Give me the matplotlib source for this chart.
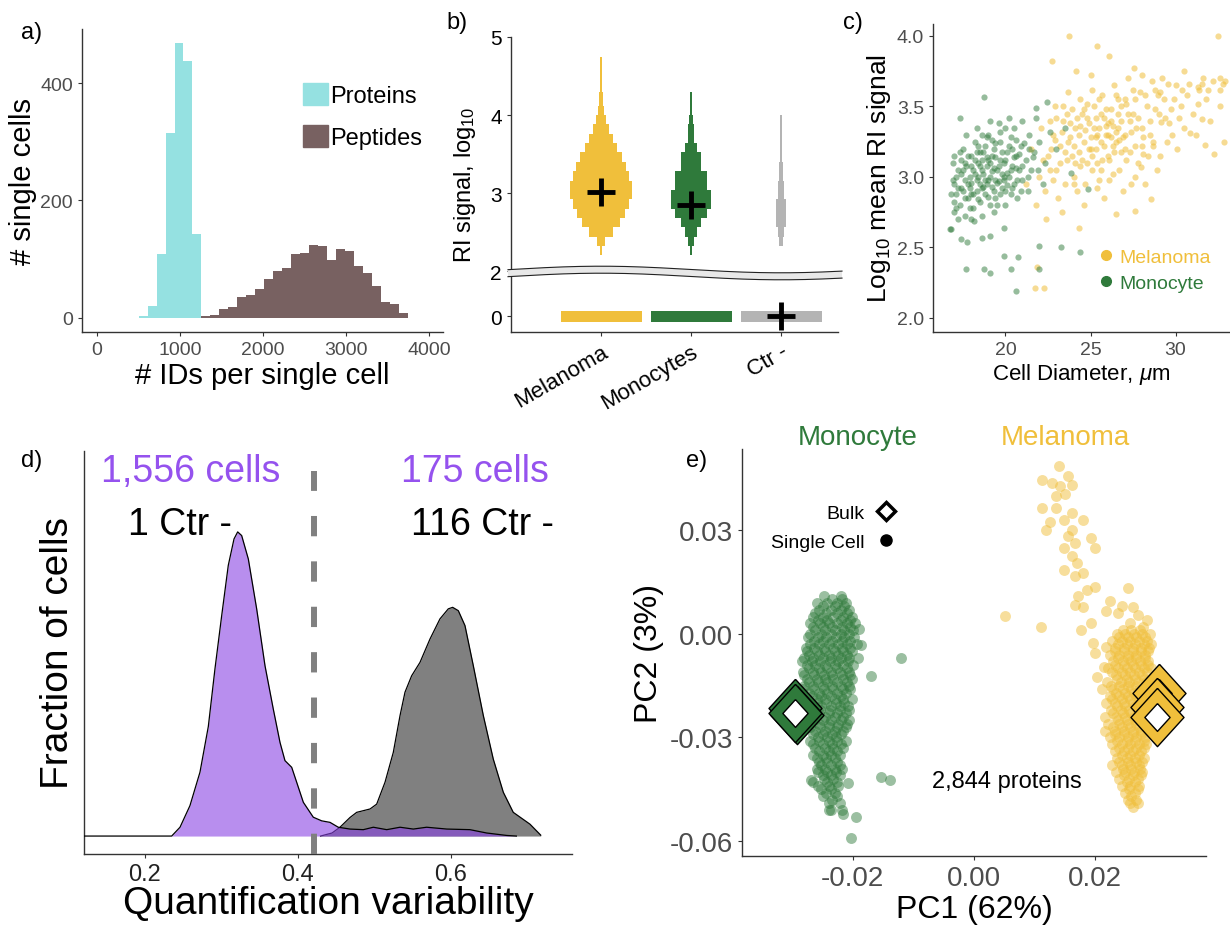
import numpy as np
import matplotlib.pyplot as plt
from matplotlib.patches import Patch, Polygon
from matplotlib.lines import Line2D

plt.rcParams['font.family'] = ['Liberation Sans', 'DejaVu Sans']
plt.rcParams['mathtext.fontset'] = 'custom'
plt.rcParams['mathtext.rm'] = 'Liberation Sans'
plt.rcParams['mathtext.it'] = 'Liberation Sans:italic'
plt.rcParams['axes.unicode_minus'] = False

# ---------------- data ----------------
# a) identifications per single cell (histograms)
prot_edges = [508, 615, 722, 829, 936, 1043, 1150, 1257]
prot_counts = [3, 21, 109, 315, 469, 437, 143]
pep_edges = [1257, 1365, 1474, 1582, 1691, 1799, 1908, 2016, 2125, 2233, 2342, 2450,
             2559, 2667, 2776, 2884, 2993, 3101, 3210, 3318, 3427, 3535, 3644, 3752]
pep_counts = [4, 5, 15, 18, 36, 39, 50, 66, 80, 85, 108, 110, 124, 123, 99, 117, 114,
              89, 76, 54, 27, 23, 9]

# b) binned RI signal (log10), relative bin widths per group
groups_b = ['Melanoma', 'Monocytes', 'Ctr -']
ri_edges = [2.20, 2.32, 2.44, 2.56, 2.68, 2.80, 2.92, 3.04, 3.16, 3.28, 3.40, 3.52,
            3.64, 3.76, 3.88, 4.00, 4.12, 4.30, 4.50, 4.75, 5.00]
ri_mel = [0.03, 0.13, 0.40, 0.60, 0.77, 0.90, 1.0, 1.0, 0.90, 0.80, 0.67, 0.53, 0.40,
          0.27, 0.17, 0.10, 0.06, 0.04, 0.025, 0.012]
ri_mono = [0.02, 0.09, 0.20, 0.33, 0.50, 0.65, 0.65, 0.50, 0.50, 0.31, 0.31, 0.19, 0.11,
           0.11, 0.06, 0.04, 0.025, 0.015, 0.008, 0.0]
ri_ctr = [0.01, 0.06, 0.10, 0.16, 0.16, 0.16, 0.09, 0.09, 0.06, 0.06, 0.03, 0.03, 0.025,
          0.02, 0.02, 0.015, 0.01, 0.006, 0.0, 0.0]
ri_median = [3.01, 2.85, 0.0]
zero_level = [0.0, 0.0, 0.0]

# c) cell diameter vs log10 mean RI signal
mono_c = [(17.0, 2.95), (17.2, 3.05), (17.1, 2.88), (17.4, 3.12), (17.3, 2.80), (17.6, 2.98),
          (17.5, 3.20), (17.8, 2.85), (17.7, 3.08), (17.9, 2.92), (18.0, 3.15), (18.1, 2.78),
          (18.2, 3.02), (18.3, 2.90), (18.2, 3.25), (18.4, 3.10), (18.5, 2.95), (18.6, 3.05),
          (18.5, 2.82), (18.7, 3.18), (18.8, 2.98), (18.9, 3.08), (18.8, 2.88), (19.0, 3.30),
          (19.1, 3.00), (19.2, 2.93), (19.0, 3.12), (19.3, 3.20), (19.4, 2.85), (19.5, 3.05),
          (19.4, 3.14), (19.6, 2.97), (19.7, 3.25), (19.8, 3.02), (19.9, 3.10), (20.0, 2.90),
          (20.1, 3.18), (20.2, 3.00), (20.3, 3.28), (20.4, 3.08), (20.5, 2.95), (20.6, 3.15),
          (20.8, 3.05), (20.9, 3.22), (21.0, 2.98), (21.2, 3.12), (21.4, 3.30), (21.5, 3.05),
          (21.7, 3.18), (22.0, 3.25), (22.3, 3.10), (22.6, 3.32), (23.0, 3.20), (23.5, 3.35),
          (16.9, 3.10), (17.0, 2.75), (16.8, 2.88), (17.2, 2.70), (17.5, 2.90), (17.9, 3.00),
          (18.0, 2.70), (18.3, 3.35), (18.6, 2.72), (19.1, 3.40), (19.3, 2.75), (19.6, 3.38),
          (20.0, 2.80), (20.2, 3.42), (20.5, 3.35), (20.7, 2.85), (21.0, 3.40), (21.3, 2.90),
          (21.8, 3.42), (22.2, 2.95), (16.8, 2.63), (17.0, 2.82), (17.7, 3.30), (18.4, 3.22),
          (18.9, 3.28), (19.2, 3.15), (19.8, 2.92), (20.3, 2.88), (17.4, 2.92), (18.1, 3.05),
          (18.7, 2.93), (19.5, 2.80), (17.1, 3.00), (17.6, 3.10), (18.0, 2.96), (18.4, 3.00),
          (18.6, 3.12), (19.0, 2.98), (19.3, 3.06), (19.7, 3.12), (20.1, 3.03), (20.6, 3.06),
          (17.2, 2.92), (17.4, 3.02), (17.6, 2.85), (17.8, 3.15), (17.9, 2.78), (18.0, 3.08),
          (18.1, 2.88), (18.2, 3.12), (18.3, 2.98), (18.4, 2.84), (18.5, 3.18), (18.6, 2.92),
          (18.7, 3.02), (18.8, 3.22), (18.9, 2.95), (19.0, 2.86), (19.1, 3.10), (19.2, 3.04),
          (19.3, 2.90), (19.4, 3.24), (19.5, 2.96), (19.6, 3.08), (19.7, 2.88), (19.8, 3.18),
          (19.9, 2.98), (20.0, 3.12), (20.1, 2.94), (20.2, 3.22), (20.3, 3.05), (20.4, 2.92),
          (20.5, 3.14), (20.6, 3.26), (20.7, 2.98), (20.8, 3.16), (21.0, 3.08), (21.1, 3.24),
          (21.3, 3.00), (21.6, 3.14), (21.9, 3.05), (17.0, 3.15), (16.9, 2.98), (17.3, 3.18),
          (17.5, 3.05), (17.1, 2.78), (17.6, 2.72), (18.0, 2.88), (18.3, 3.18), (18.6, 3.30),
          (18.9, 3.14), (19.1, 2.80), (19.4, 2.98), (19.7, 3.32), (20.0, 3.35), (20.4, 3.20),
          (20.9, 2.90), (21.4, 3.20), (17.8, 2.95), (18.5, 3.08), (19.2, 3.26), (19.9, 3.00),
          (18.76, 3.565), (17.34, 3.42), (17.69, 2.35), (18.72, 2.35), (19.07, 2.32),
          (19.9, 2.44), (20.73, 2.43), (20.3, 2.35), (20.59, 2.19), (21.97, 2.51),
          (23.25, 2.50), (24.4, 2.47), (21.97, 2.35), (17.4, 2.56), (17.73, 2.54),
          (18.62, 2.57), (19.11, 2.58), (16.75, 2.63), (18.13, 2.69), (19.9, 2.64),
          (24.83, 2.915), (23.85, 3.03), (22.47, 3.53), (21.78, 3.49)]
mel_c = [(22.5, 3.15), (22.8, 3.30), (23.0, 3.05), (23.2, 3.22), (23.4, 3.40), (23.6, 3.12),
         (23.8, 3.28), (24.0, 3.00), (24.1, 3.35), (24.3, 3.18), (24.5, 3.45), (24.6, 3.25),
         (24.8, 3.10), (24.9, 3.38), (25.0, 3.28), (25.2, 3.50), (25.3, 3.20), (25.5, 3.35),
         (25.6, 3.05), (25.8, 3.42), (25.9, 3.30), (26.0, 3.15), (26.2, 3.48), (26.3, 3.36),
         (26.5, 3.25), (26.6, 3.55), (26.8, 3.40), (27.0, 3.30), (27.1, 3.52), (27.3, 3.18),
         (27.5, 3.45), (27.7, 3.35), (27.9, 3.60), (28.1, 3.28), (28.3, 3.50), (28.5, 3.40),
         (28.8, 3.62), (29.0, 3.45), (29.3, 3.55), (29.6, 3.38), (30.0, 3.65), (30.3, 3.50),
         (30.7, 3.58), (31.0, 3.45), (31.4, 3.62), (31.8, 3.55), (32.2, 3.68), (32.6, 3.50),
         (22.0, 3.00), (22.3, 2.90), (22.6, 3.40), (23.1, 2.85), (23.5, 2.95), (23.9, 3.48),
         (24.2, 2.90), (24.4, 3.55), (24.7, 2.95), (25.1, 3.62), (25.4, 2.92), (25.7, 3.58),
         (26.1, 2.98), (26.4, 3.65), (26.7, 3.05), (27.2, 3.70), (27.4, 2.95), (27.8, 3.10),
         (28.0, 3.72), (28.4, 3.15), (28.7, 3.25), (29.2, 3.70), (29.8, 3.30), (30.5, 3.75),
         (31.2, 3.30), (32.0, 3.40), (32.8, 3.66), (21.2, 2.95), (21.5, 3.20), (21.8, 2.80),
         (22.1, 3.35), (22.4, 2.70), (22.9, 3.50), (23.3, 2.75), (23.7, 3.60), (24.6, 2.80),
         (25.0, 3.72), (25.8, 2.85), (26.9, 2.90), (28.2, 2.95), (28.9, 3.05), (22.7, 3.20),
         (23.3, 3.32), (23.7, 3.25), (24.2, 3.42), (24.7, 3.33), (25.1, 3.15), (25.3, 3.42),
         (25.6, 3.25), (26.0, 3.38), (26.3, 3.22), (26.6, 3.45), (26.9, 3.28), (27.3, 3.40),
         (27.6, 3.22), (24.4, 3.08), (24.9, 3.20), (25.4, 3.30), (25.9, 3.48), (26.5, 3.32),
         (27.0, 3.55), (23.0, 3.42), (23.9, 3.15), (24.8, 3.52), (25.7, 3.12), (26.2, 3.28),
         (26.8, 3.18), (23.5, 3.18), (23.8, 3.38), (24.0, 3.22), (24.3, 3.30), (24.5, 3.12),
         (24.8, 3.42), (25.0, 3.20), (25.2, 3.35), (25.4, 3.10), (25.6, 3.45), (25.8, 3.22),
         (26.0, 3.30), (26.2, 3.40), (26.4, 3.18), (26.6, 3.35), (26.8, 3.50), (27.0, 3.20),
         (27.2, 3.45), (27.4, 3.32), (27.6, 3.55), (27.8, 3.42), (28.0, 3.35), (28.2, 3.58),
         (28.5, 3.30), (28.8, 3.48), (29.1, 3.60), (29.4, 3.42), (29.9, 3.55), (30.2, 3.42),
         (30.8, 3.66), (31.3, 3.52), (31.9, 3.62), (22.6, 3.05), (22.9, 3.26), (23.2, 3.10),
         (23.6, 3.45), (24.1, 3.10), (24.6, 3.48), (25.1, 3.05), (25.5, 3.55), (26.1, 3.12),
         (26.5, 3.58), (27.1, 3.12), (27.5, 3.62), (28.0, 3.22), (28.6, 3.68), (24.4, 3.36),
         (25.3, 3.28), (25.9, 3.36), (26.7, 3.26), (23.4, 3.50), (24.0, 2.95), (25.5, 2.98),
         (26.3, 3.02), (27.6, 3.00), (22.2, 3.12), (22.8, 2.98), (29.5, 3.25), (30.5, 3.35),
         (31.6, 3.70), (23.75, 4.0), (32.5, 4.0), (25.37, 3.93), (22.76, 3.82), (26.1, 3.86),
         (24.14, 3.75), (27.56, 3.77), (32.62, 3.70), (32.92, 3.68), (31.54, 3.66),
         (21.72, 2.21), (22.27, 2.21), (21.87, 2.36), (24.34, 2.64), (26.5, 2.74),
         (27.63, 2.76), (28.58, 2.84), (32.82, 3.25), (32.23, 3.16), (31.73, 3.23),
         (30.06, 3.20), (30.85, 3.31), (31.54, 3.41), (32.62, 3.62), (31.34, 3.64),
         (30.36, 3.62), (29.57, 3.66), (28.98, 3.58), (29.76, 3.48), (29.17, 3.39),
         (28.68, 3.22), (28.09, 3.16), (29.07, 3.15), (27.99, 3.07)]

# d) quantification variability densities
purple_q = [0.1208, 0.2354, 0.2463, 0.2593, 0.2724, 0.2833, 0.2920, 0.3008, 0.3094, 0.3169,
            0.3217, 0.3269, 0.3356, 0.3465, 0.3574, 0.3682, 0.3770, 0.3835, 0.3923, 0.3988,
            0.4075, 0.4205, 0.4315, 0.4424, 0.4532, 0.4685, 0.4859, 0.4990, 0.5165, 0.5339,
            0.5512, 0.5687, 0.5950, 0.6253, 0.6472, 0.6733, 0.6860]
purple_d = [0.0, 0.0, 0.29, 1.0, 2.1, 3.6, 5.5, 7.25, 8.9, 9.77, 10.0, 9.88, 9.11, 7.47,
            5.6, 4.18, 3.08, 2.48, 2.26, 1.77, 1.11, 0.62, 0.50, 0.45, 0.29, 0.23, 0.21,
            0.29, 0.21, 0.29, 0.23, 0.29, 0.23, 0.21, 0.10, 0.02, 0.0]
gray_q = [0.4300, 0.4450, 0.4554, 0.4685, 0.4773, 0.4947, 0.5034, 0.5143, 0.5251, 0.5339,
          0.5404, 0.5491, 0.5600, 0.5731, 0.5861, 0.5970, 0.6027, 0.6101, 0.6188, 0.6297,
          0.6428, 0.6558, 0.6689, 0.6819, 0.7038, 0.7178]
gray_d = [0.0, 0.10, 0.29, 0.61, 0.78, 0.89, 1.05, 1.77, 2.75, 3.96, 4.73, 5.27, 5.71,
          6.48, 7.14, 7.47, 7.52, 7.41, 6.92, 5.60, 3.96, 2.53, 1.44, 0.78, 0.39, 0.03]
qv_cutoff = 0.421

# e) PCA (values in units of 1e-3)
mono_pc = [(-22.0, 11), (-24.8, 11), (-23.4, 10), (-21.8, 10),
           (-26.0, 9), (-24.2, 9), (-22.6, 9), (-21.2, 9), (-25.0, 8), (-23.0, 8), (-21.4, 8),
           (-25.6, 7), (-23.6, 7), (-22.0, 7), (-20.6, 7),
           (-26.2, 6), (-24.4, 6), (-22.6, 6), (-21.0, 6),
           (-26.6, 5), (-25.0, 5), (-23.2, 5), (-21.6, 5), (-20.2, 5),
           (-25.8, 4), (-24.2, 4), (-22.0, 4), (-20.4, 4),
           (-27.0, 3), (-25.4, 3), (-24.0, 3), (-22.6, 3), (-21.0, 3), (-19.6, 3),
           (-26.6, 2), (-25.0, 2), (-23.4, 2), (-21.8, 2), (-20.4, 2),
           (-26.2, 1), (-24.6, 1), (-23.0, 1), (-21.4, 1), (-19.9, 1),
           (-27.0, 0), (-25.2, 0), (-23.6, 0), (-22.0, 0), (-20.6, 0),
           (-27.4, -1), (-25.8, -1), (-24.4, -1), (-22.8, -1), (-21.4, -1), (-19.8, -1),
           (-26.4, -2), (-25.0, -2), (-23.4, -2), (-21.8, -2), (-20.4, -2),
           (-27.0, -3), (-25.6, -3), (-24.0, -3), (-22.4, -3), (-21.0, -3), (-19.3, -3),
           (-27.8, -4), (-26.4, -4), (-24.8, -4), (-23.2, -4), (-21.8, -4), (-20.4, -4),
           (-27.6, -5), (-26.0, -5), (-24.6, -5), (-23.0, -5), (-21.6, -5), (-20.2, -5),
           (-27.2, -6), (-25.6, -6), (-24.0, -6), (-22.4, -6), (-21.0, -6),
           (-28.0, -7), (-26.6, -7), (-25.0, -7), (-23.6, -7), (-22.0, -7), (-20.6, -7), (-19.2, -7),
           (-28.4, -8), (-26.8, -8), (-25.4, -8), (-23.8, -8), (-22.4, -8), (-20.8, -8),
           (-27.6, -9), (-26.2, -9), (-24.6, -9), (-23.0, -9), (-21.6, -9), (-20.0, -9),
           (-27.2, -10), (-25.6, -10), (-24.2, -10), (-22.6, -10), (-21.0, -10),
           (-28.2, -11), (-26.6, -11), (-25.2, -11), (-23.6, -11), (-22.2, -11), (-20.6, -11),
           (-28.0, -12), (-26.4, -12), (-24.8, -12), (-23.4, -12), (-21.8, -12), (-20.4, -12),
           (-27.6, -13), (-26.0, -13), (-24.6, -13), (-23.2, -13), (-21.6, -13), (-20.2, -13),
           (-27.2, -14), (-25.8, -14), (-24.2, -14), (-22.6, -14), (-21.0, -14),
           (-28.0, -15), (-26.6, -15), (-25.0, -15), (-23.4, -15), (-22.0, -15), (-20.6, -15),
           (-28.2, -16), (-26.4, -16), (-24.8, -16), (-23.2, -16), (-21.6, -16), (-20.4, -16),
           (-27.2, -17), (-25.6, -17), (-24.2, -17), (-22.6, -17), (-21.2, -17),
           (-26.8, -18), (-25.2, -18), (-23.6, -18), (-22.0, -18),
           (-27.6, -19), (-26.0, -19), (-24.6, -19), (-23.0, -19), (-21.6, -19), (-20.2, -19),
           (-27.6, -20), (-26.0, -20), (-24.4, -20), (-22.8, -20), (-21.4, -20),
           (-26.6, -21), (-25.2, -21), (-23.6, -21), (-22.2, -21), (-20.8, -21),
           (-27.0, -22), (-25.4, -22), (-23.8, -22), (-22.2, -22), (-20.6, -22),
           (-27.0, -23), (-25.6, -23), (-24.0, -23), (-22.6, -23), (-21.2, -23),
           (-26.2, -24), (-24.6, -24), (-23.0, -24), (-21.6, -24),
           (-26.4, -25), (-25.0, -25), (-23.6, -25), (-22.0, -25), (-20.6, -25),
           (-27.0, -26), (-25.6, -26), (-24.0, -26), (-22.4, -26), (-21.0, -26),
           (-27.0, -27), (-25.4, -27), (-24.0, -27), (-22.6, -27), (-21.2, -27),
           (-26.2, -28), (-24.6, -28), (-23.0, -28), (-21.6, -28),
           (-26.6, -29), (-25.0, -29), (-23.4, -29), (-22.0, -29),
           (-25.8, -30), (-24.2, -30), (-22.8, -30),
           (-27.0, -31), (-25.6, -31), (-24.0, -31), (-22.6, -31), (-21.2, -31),
           (-26.6, -32), (-25.0, -32), (-23.4, -32), (-22.0, -32),
           (-26.2, -33), (-24.6, -33), (-23.2, -33), (-21.6, -33),
           (-25.6, -34), (-24.0, -34), (-22.6, -34),
           (-26.6, -35), (-25.0, -35), (-23.6, -35), (-22.2, -35),
           (-26.0, -36), (-24.4, -36), (-23.0, -36),
           (-25.6, -37), (-24.2, -37), (-22.6, -37),
           (-25.2, -38), (-23.6, -38), (-22.2, -38),
           (-26.0, -39), (-24.6, -39), (-23.0, -39), (-21.8, -39),
           (-25.8, -40), (-24.2, -40), (-22.8, -40),
           (-25.0, -41), (-23.6, -41), (-22.2, -41), (-24.8, -42), (-23.2, -42),
           (-26.6, -43), (-24.2, -43), (-22.6, -43), (-25.8, -44), (-24.0, -44), (-22.4, -44),
           (-25.2, -45), (-23.6, -45), (-24.4, -46), (-23.0, -46), (-25.0, -47), (-22.6, -47),
           (-23.4, -48), (-24.0, -49), (-22.2, -49), (-23.6, -51), (-21.8, -51),
           (-12.0, -7.0), (-17.0, -12.2), (-15.4, -41.5), (-13.8, -42.3), (-19.5, -53.0),
           (-20.3, -59.2), (-18.6, -3.2), (-19.0, 1.5), (-21.7, -52.0), (-23.9, -51.0),
           (-20.8, -43.3), (-26.9, -42.3)]
mel_pc = [(14.0, 48.5), (11.3, 44.6), (12.9, 43.7), (14.2, 42.7), (15.5, 45.6), (16.1, 43.2),
          (13.5, 39.8), (11.3, 36.4), (13.5, 36.4), (16.1, 35.0), (18.0, 33.0), (14.8, 33.0),
          (11.9, 30.1), (16.1, 30.1), (15.5, 28.2), (19.3, 27.7), (19.9, 24.8), (16.7, 26.3),
          (14.8, 24.8), (16.1, 22.4), (18.0, 17.6), (14.8, 18.6), (16.7, 16.6), (19.9, 13.7),
          (18.7, 12.8), (25.4, 13.2), (16.7, 8.4), (18.0, 7.9), (5.2, 5.2), (11.0, 1.9),
          (17.7, 1.2), (19.3, 3.1), (21.8, 6.5), (23.7, 6.0), (27.0, 5.5), (25.7, 3.1),
          (27.9, 2.1), (19.6, -2.7), (19.9, -5.6), (21.8, -3.7), (20.3, -12.4), (21.5, -9.5),
          (17.0, 20.5), (15.0, 40.5), (12.5, 32.5), (17.2, 11.0), (22.5, 9.5), (24.5, 8.0),
          (26.2, 7.8), (28.5, 4.0),
          (24.6, 1), (26.0, 1), (27.4, 1),
          (23.6, 0), (25.0, 0), (26.4, 0), (27.8, 0), (29.0, 0),
          (24.0, -1), (25.4, -1), (26.8, -1), (28.2, -1),
          (22.8, -2), (24.4, -2), (25.8, -2), (27.2, -2), (28.6, -2),
          (23.8, -3), (25.2, -3), (26.6, -3), (28.0, -3), (29.2, -3),
          (23.2, -4), (24.8, -4), (26.2, -4), (27.6, -4), (28.9, -4),
          (23.2, -5), (24.8, -5), (26.2, -5), (27.6, -5), (28.8, -5),
          (22.4, -6), (24.0, -6), (25.4, -6), (26.8, -6), (28.2, -6),
          (23.8, -7), (25.4, -7), (26.8, -7), (28.2, -7),
          (23.0, -8), (24.6, -8), (26.0, -8), (27.4, -8), (28.8, -8),
          (23.2, -9), (24.8, -9), (26.2, -9), (27.6, -9), (28.8, -9),
          (22.2, -10), (23.8, -10), (25.2, -10), (26.6, -10), (28.0, -10), (29.2, -10),
          (22.8, -11), (24.4, -11), (25.8, -11), (27.2, -11), (28.6, -11),
          (23.4, -12), (25.0, -12), (26.4, -12), (27.8, -12),
          (23.6, -13), (25.2, -13), (26.6, -13), (28.0, -13), (29.2, -13),
          (22.0, -14), (24.2, -14), (25.6, -14), (27.0, -14), (28.4, -14),
          (22.6, -15), (24.0, -15), (25.4, -15), (26.8, -15), (28.2, -15),
          (21.2, -16), (23.0, -16), (24.6, -16), (26.0, -16), (27.4, -16), (28.8, -16),
          (23.4, -17), (25.0, -17), (26.4, -17), (27.8, -17),
          (22.4, -18), (24.0, -18), (25.4, -18), (26.8, -18), (28.2, -18),
          (22.8, -19), (24.4, -19), (25.8, -19), (27.2, -19), (28.6, -19),
          (21.8, -20), (23.2, -20), (24.8, -20), (26.2, -20), (27.6, -20),
          (23.6, -21), (25.0, -21), (26.6, -21), (28.0, -21),
          (22.6, -22), (24.2, -22), (25.6, -22), (27.0, -22), (28.4, -22),
          (23.0, -23), (24.6, -23), (26.0, -23), (27.4, -23), (28.8, -23),
          (21.6, -24), (23.4, -24), (25.0, -24), (26.4, -24), (27.8, -24),
          (23.8, -25), (25.2, -25), (26.6, -25), (28.0, -25),
          (22.2, -26), (24.0, -26), (25.4, -26), (26.8, -26), (28.2, -26),
          (23.0, -27), (24.4, -27), (25.8, -27), (27.2, -27), (28.4, -27),
          (21.6, -28), (23.2, -28), (24.8, -28), (26.2, -28), (27.6, -28), (28.8, -28),
          (23.2, -29), (24.8, -29), (26.2, -29), (27.6, -29),
          (22.4, -30), (24.0, -30), (25.4, -30), (26.8, -30), (28.2, -30),
          (23.6, -31), (25.2, -31), (26.6, -31), (28.0, -31),
          (22.8, -32), (24.4, -32), (25.8, -32), (27.2, -32), (28.4, -32),
          (24.0, -33), (25.4, -33), (26.8, -33), (28.0, -33),
          (23.2, -34), (24.8, -34), (26.2, -34), (27.6, -34),
          (24.4, -35), (25.8, -35), (27.2, -35),
          (23.6, -36), (25.2, -36), (26.6, -36), (28.0, -36),
          (24.0, -37), (25.4, -37), (26.8, -37), (27.8, -37),
          (22.8, -38), (24.4, -38), (25.8, -38), (27.2, -38),
          (24.6, -39), (26.0, -39), (27.4, -39),
          (23.4, -40), (25.0, -40), (26.4, -40), (27.8, -40),
          (24.8, -41), (26.2, -41), (27.6, -41),
          (24.0, -42), (25.6, -42), (27.0, -42), (25.2, -43), (26.6, -43),
          (24.4, -44), (25.8, -44), (27.2, -44), (25.6, -45), (27.0, -45),
          (25.0, -46), (26.6, -46), (26.0, -47), (25.4, -48), (26.8, -48),
          (25.8, -49), (27.0, -49), (26.2, -50)]
mono_bulk = [(-29.5, -21.5), (-29.2, -23.5), (-29.6, -22.8)]
mel_bulk = [(30.5, -17.2), (30.2, -21.1), (30.2, -24.0)]

# ---------------- style ----------------
W, H = 1230, 928
CYAN = '#95e1e1'
BROWN = '#786161'
GOLD = '#f0bf3b'
GREEN = '#2f7a3b'
LGREY = '#b4b4b4'
PURPLE = '#8a43e3'
PURPLE_TXT = '#9552ee'
TICKGREY = '#4d4d4d'
AXCOL = '#333333'


def box(l, t, r, b):
    return [l / W, 1 - b / H, (r - l) / W, (b - t) / H]


def style(ax, labelcolor, size):
    for s in ['top', 'right']:
        ax.spines[s].set_visible(False)
    for s in ['left', 'bottom']:
        ax.spines[s].set_color(AXCOL)
        ax.spines[s].set_linewidth(1.0)
    ax.tick_params(colors=AXCOL, labelcolor=labelcolor, labelsize=size,
                   length=3, width=0.8)


fig = plt.figure(figsize=(W / 100, H / 100), dpi=100)

# ---------------- a ----------------
axa = fig.add_axes(box(82, 30, 443, 333))
axa.stairs(prot_counts, prot_edges, fill=True, color=CYAN)
axa.stairs(pep_counts, pep_edges, fill=True, color=BROWN)
axa.set_xlim(-180, 4170)
axa.set_ylim(-24, 492)
axa.set_xticks([0, 1000, 2000, 3000, 4000])
axa.set_yticks([0, 200, 400])
style(axa, TICKGREY, 14)
axa.set_xlabel('# IDs per single cell', fontsize=21, labelpad=2)
axa.set_ylabel('# single cells', fontsize=21, labelpad=2)
axa.legend(handles=[Patch(color=CYAN, label='Proteins'), Patch(color=BROWN, label='Peptides')],
           loc='upper left', bbox_to_anchor=((303 - 82) / 361, (333 - 84) / 303),
           frameon=False, fontsize=17, handlelength=1.05, handleheight=1.05,
           handletextpad=0.1, labelspacing=0.75, borderpad=0, borderaxespad=0)

# ---------------- b ----------------
axb = fig.add_axes(box(511, 38, 838, 276))
axb0 = fig.add_axes(box(511, 278, 838, 333))
cols_b = [GOLD, GREEN, LGREY]
heights = np.diff(ri_edges)
for i, dens in enumerate([ri_mel, ri_mono, ri_ctr]):
    hw = np.array(dens) * 0.345
    axb.barh(ri_edges[:-1], 2 * hw, left=i + 1 - hw, height=heights, align='edge',
             color=cols_b[i], linewidth=0)
axb0.bar([1, 2, 3], 0.31, bottom=np.array(zero_level) - 0.155, width=0.9,
         color=cols_b, linewidth=0)
for i, m in enumerate(ri_median):
    target = axb if m >= 2 else axb0
    target.plot(i + 1, m, marker='+', ms=20, mew=3.5, color='black', ls='none', zorder=5)
for ax in (axb, axb0):
    ax.set_xlim(0, 3.633)
    style(ax, 'black', 15)
axb.set_ylim(1.95, 5.0)
axb.set_yticks([2, 3, 4, 5])
axb.set_xticks([])
axb.spines['bottom'].set_visible(False)
axb0.set_ylim(-0.45, 1.10)
axb0.set_yticks([0])
axb0.set_xticks([1, 2, 3])
axb0.set_xticklabels(groups_b, rotation=30, ha='right', rotation_mode='anchor', fontsize=16)
fig.text(465 / W, 1 - 185 / H, r'RI signal, log$_{10}$', rotation=90, fontsize=17,
         ha='center', va='center')
# axis break
xs = np.linspace(508, 842, 200)
top = 270.5 - 3.3 * np.sin(2 * np.pi * (xs - 511) / 360)
bot = top + 7
poly = np.column_stack([np.r_[xs, xs[::-1]] / W, 1 - np.r_[top, bot[::-1]] / H])
fig.add_artist(Polygon(poly, closed=True, transform=fig.transFigure,
                       facecolor='#e8e8e8', edgecolor='none', zorder=10))
fig.add_artist(Line2D(xs / W, 1 - top / H, transform=fig.transFigure, color='#222222',
                      lw=0.8, zorder=11))
fig.add_artist(Line2D(xs / W, 1 - bot / H, transform=fig.transFigure, color='#222222',
                      lw=0.8, zorder=11))

# ---------------- c ----------------
axc = fig.add_axes(box(933, 25, 1230, 333))
mel_c = np.array(mel_c)
mono_c = np.array(mono_c)
axc.scatter(mel_c[:, 0], mel_c[:, 1], s=20, color=GOLD, alpha=0.55, linewidths=0)
axc.scatter(mono_c[:, 0], mono_c[:, 1], s=20, color=GREEN, alpha=0.5, linewidths=0)
axc.set_xlim(15.74, 33.2)
axc.set_ylim(1.90, 4.085)
axc.set_xticks([20, 25, 30])
axc.set_yticks([2.0, 2.5, 3.0, 3.5, 4.0])
axc.set_yticklabels(['2.0', '2.5', '3.0', '3.5', '4.0'])
style(axc, TICKGREY, 14)
axc.set_xlabel(r'Cell Diameter, $\mu$m', fontsize=16, labelpad=2)
axc.set_ylabel(r'Log$_{10}$ mean RI signal', fontsize=19, labelpad=3)
axc.legend(handles=[Line2D([], [], marker='o', ls='none', ms=7, color=GOLD, label='Melanoma'),
                    Line2D([], [], marker='o', ls='none', ms=7, color=GREEN, label='Monocyte')],
           labelcolor=[GOLD, GREEN], loc='upper left',
           bbox_to_anchor=((1098 - 933) / 297, (333 - 249) / 308), frameon=False,
           fontsize=14, handlelength=0.8, handletextpad=0.3, labelspacing=0.45,
           borderpad=0, borderaxespad=0)

# ---------------- d ----------------
axd = fig.add_axes(box(84, 452, 572, 855))
axd.fill_between(gray_q, gray_d, color='#808080', linewidth=0, zorder=1)
axd.plot(gray_q, gray_d, color='black', lw=0.9, zorder=2)
axd.fill_between(purple_q, purple_d, color=PURPLE, alpha=0.6, linewidth=0, zorder=3)
axd.plot(purple_q, purple_d, color='black', lw=0.9, zorder=4)
axd.axvline(qv_cutoff, ymin=0, ymax=0.95, color='#808080', lw=4.3,
            dashes=(3.4, 4.2), zorder=5)
axd.set_xlim(0.1208, 0.7587)
axd.set_ylim(-0.59, 12.66)
axd.set_xticks([0.2, 0.4, 0.6])
axd.set_yticks([])
style(axd, '#222222', 17)
axd.set_xlabel('Quantification variability', fontsize=28, labelpad=0)
axd.set_ylabel('Fraction of cells', fontsize=28, labelpad=6)
axd.text(0.2607, 12.0, '1,556 cells', color=PURPLE_TXT, fontsize=27, ha='center', va='center')
axd.text(0.6319, 12.0, '175 cells', color=PURPLE_TXT, fontsize=27, ha='center', va='center')
axd.text(0.2456, 10.26, '1 Ctr -', color='black', fontsize=27, ha='center', va='center')
axd.text(0.6410, 10.26, '116 Ctr -', color='black', fontsize=27, ha='center', va='center')

# ---------------- e ----------------
axe = fig.add_axes(box(742, 450, 1206, 857))
mono_pc = np.array(mono_pc) / 1000
mel_pc = np.array(mel_pc) / 1000
axe.scatter(mono_pc[:, 0], mono_pc[:, 1], s=62, color=GREEN, alpha=0.48, linewidths=0)
axe.scatter(mel_pc[:, 0], mel_pc[:, 1], s=62, color=GOLD, alpha=0.5, linewidths=0)
DIAMOND = [(0, 1.1), (1, 0), (0, -1.1), (-1, 0), (0, 1.1)]
for pts, col in ((mono_bulk, GREEN), (mel_bulk, GOLD)):
    for x, y in pts:
        axe.plot(x / 1000, y / 1000, marker=DIAMOND, ms=42, mfc=col, mec='black',
                 mew=1.0, ls='none', zorder=6)
        axe.plot(x / 1000, y / 1000, marker=DIAMOND, ms=20, mfc='white', mec='black',
                 mew=1.0, ls='none', zorder=6)
axe.set_xlim(-0.0383, 0.0383)
axe.set_ylim(-0.0643, 0.0535)
axe.set_xticks([-0.02, 0.0, 0.02])
axe.set_xticklabels(['-0.02', '0.00', '0.02'])
axe.set_yticks([-0.06, -0.03, 0.0, 0.03])
axe.set_yticklabels(['-0.06', '-0.03', '0.00', '0.03'])
style(axe, TICKGREY, 20)
axe.set_xlabel('PC1 (62%)', fontsize=23, labelpad=2)
axe.set_ylabel('PC2 (3%)', fontsize=23, labelpad=4)
axe.text(0.249, 1.03, 'Monocyte', transform=axe.transAxes, color=GREEN, fontsize=20,
         ha='center', va='center')
axe.text(0.698, 1.03, 'Melanoma', transform=axe.transAxes, color=GOLD, fontsize=20,
         ha='center', va='center')
axe.text(0.571, 0.184, '2,844 proteins', transform=axe.transAxes, fontsize=17,
         ha='center', va='center')
axe.legend(handles=[Line2D([], [], marker='D', ls='none', ms=9, mfc='white', mec='black',
                           mew=2.5, label='Bulk'),
                    Line2D([], [], marker='o', ls='none', ms=8, color='black',
                           label='Single Cell')],
           markerfirst=False, loc='upper right',
           bbox_to_anchor=((896 - 742) / 464, (857 - 505) / 407), frameon=False,
           fontsize=14, handlelength=1.0, handletextpad=0.6, labelspacing=0.6,
           borderpad=0, borderaxespad=0)

# ---------------- panel labels ----------------
for lab, x, y in (('a)', 32, 33), ('b)', 457, 23), ('c)', 853, 23), ('d)', 32, 461),
                  ('e)', 697, 461)):
    fig.text(x / W, 1 - y / H, lab, fontsize=17, ha='center', va='center')

fig.savefig('out.png', dpi=100)
